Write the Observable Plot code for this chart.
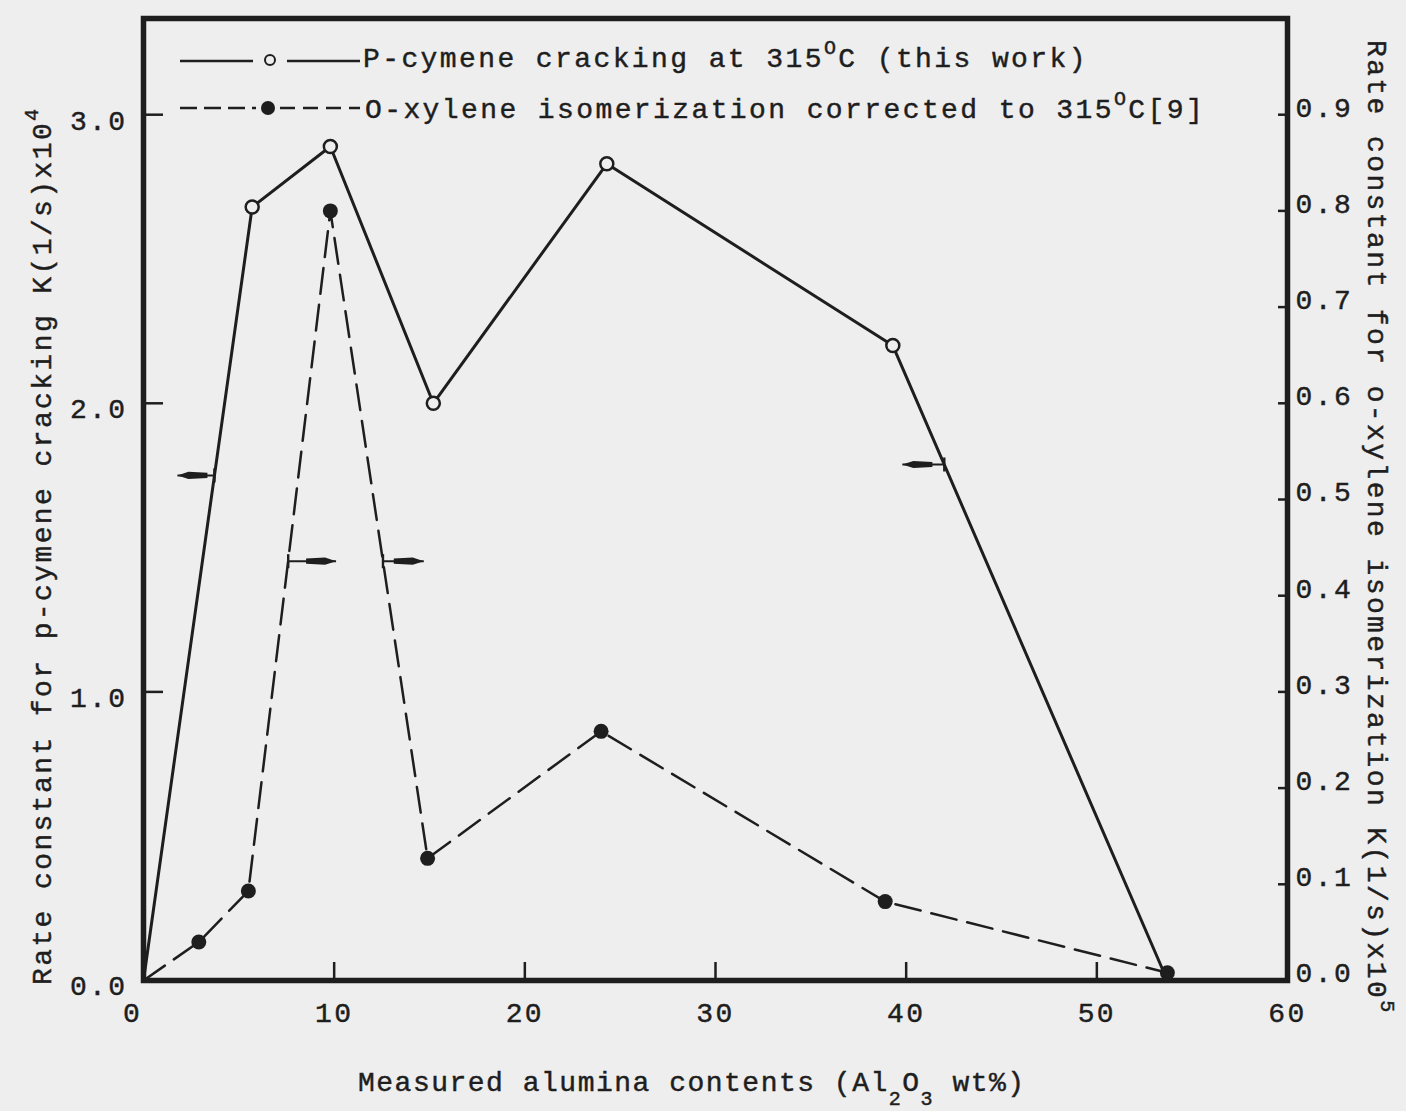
<!DOCTYPE html>
<html>
<head>
<meta charset="utf-8">
<script src="https://cdn.jsdelivr.net/npm/d3@7"></script>
<script src="https://cdn.jsdelivr.net/npm/@observablehq/plot@0.6"></script>
<style>
  html, body { margin: 0; padding: 0; background: #eeeeee; overflow: hidden; }
  /* slightly heavier, typewriter-like lettering */
  #chart svg text { stroke: #1e1e1e; stroke-width: 0.45px; }
</style>
</head>
<body>
<div id="chart"></div>
<script>
// p-cymene cracking at 315 °C (left axis, K(1/s) x10^4)
const aluminaPC = [0, 5.7, 9.8, 15.2, 24.3, 39.3, 53.7];
const kPCymene  = [0, 2.68, 2.89, 2.0, 2.83, 2.2, 0];

// o-xylene isomerization corrected to 315 °C (right axis, K(1/s) x10^5)
const aluminaOX = [0, 2.9, 5.5, 9.8, 14.9, 24.0, 38.9, 53.7];
const kOXylene  = [0, 0.040, 0.093, 0.80, 0.127, 0.259, 0.082, 0.008];

// axis ticks
const xTicks     = [0, 10, 20, 30, 40, 50, 60];
const leftTicks  = [0, 1, 2, 3];
const rightTicks = [0, 0.1, 0.2, 0.3, 0.4, 0.5, 0.6, 0.7, 0.8, 0.9];

// small arrows telling which axis each curve is read on
// (base on the curve, tip toward the axis, height in left-axis units)
const arrowBase = [3.72, 7.59, 12.56, 42.0];
const arrowTip  = [1.78, 10.1, 14.7, 39.8];
const arrowY    = [1.75, 1.453, 1.453, 1.788];

// text
const legendPC = [["P-cymene cracking at 315"], ["O", "sup"], ["C (this work)"]];
const legendOX = [["O-xylene isomerization corrected to 315"], ["O", "sup"], ["C[9]"]];
const xTitle   = [["Measured alumina contents (Al"], ["2", "sub"], ["O"], ["3", "sub"], [" wt%)"]];
const yTitleL  = [["Rate constant for p-cymene cracking K(1/s)x10"], ["4", "sup"]];
const yTitleR  = [["Rate constant for o-xylene isomerization K(1/s)x10"], ["5", "sup"]];

const INK = "#1e1e1e";
const PAPER = "#eeeeee";
const FONT = "'Liberation Mono', 'DejaVu Sans Mono', monospace";
const W = 1406, H = 1111;
const M = {top: 18, right: 119, bottom: 131, left: 143};
const frameW = W - M.left - M.right;
const frameH = H - M.top - M.bottom;
const K = 10 / 3; // one unit on the right axis in left-axis units

const pc = aluminaPC.map((x, i) => ({x, k: kPCymene[i]}));
const ox = aluminaOX.map((x, i) => ({x, k: kOXylene[i]}));
const arrows = arrowBase.map((b, i) => ({base: b, tip: arrowTip[i], y: arrowY[i], dir: Math.sign(arrowTip[i] - b)}));

// long narrow dart heads, tip at the origin
const headRight = {draw(c) { c.moveTo(0, 0); c.lineTo(-11, -3.6); c.lineTo(-30, -2.6); c.lineTo(-30, 2.6); c.lineTo(-11, 3.6); c.closePath(); }};
const headLeft  = {draw(c) { c.moveTo(0, 0); c.lineTo(11, -3.6); c.lineTo(30, -2.6); c.lineTo(30, 2.6); c.lineTo(11, 3.6); c.closePath(); }};
// short upright bar where each arrow leaves its curve
const baseBar   = {draw(c) { c.moveTo(-1.2, -7); c.lineTo(1.2, -7); c.lineTo(1.2, 7); c.lineTo(-1.2, 7); c.closePath(); }};

// text with superscripts / subscripts
function richText(parent, parts, attrs, spacing = 2.4) {
  const t = parent.append("text")
    .attr("fill", INK)
    .attr("text-anchor", "start")
    .attr("font-family", FONT)
    .attr("font-size", 28)
    .attr("letter-spacing", `${spacing}px`);
  for (const [k, v] of Object.entries(attrs)) t.attr(k, v);
  let shift = 0;
  for (const [str, kind] of parts) {
    const target = kind === "sup" ? -13 : kind === "sub" ? 14 : 0;
    const s = t.append("tspan").text(str).attr("dy", target - shift);
    if (kind) s.attr("font-size", 20);
    shift = target;
  }
  return t;
}

function legendMark() {
  const g = d3.create("svg:g");
  const x0 = M.left + 37;
  // row 1: solid line with open circle
  const y1 = 61;
  g.append("line").attr("x1", x0).attr("x2", x0 + 73).attr("y1", y1).attr("y2", y1)
    .attr("stroke", INK).attr("stroke-width", 2.5);
  g.append("circle").attr("cx", x0 + 90).attr("cy", y1 - 1).attr("r", 5)
    .attr("fill", "none").attr("stroke", INK).attr("stroke-width", 2);
  g.append("line").attr("x1", x0 + 107).attr("x2", x0 + 180).attr("y1", y1).attr("y2", y1)
    .attr("stroke", INK).attr("stroke-width", 2.5);
  richText(g, legendPC, {x: x0 + 183, y: 67});
  // row 2: dashed line with filled dot
  const y2 = 108;
  g.append("line").attr("x1", x0).attr("x2", x0 + 76).attr("y1", y2).attr("y2", y2)
    .attr("stroke", INK).attr("stroke-width", 2.5).attr("stroke-dasharray", "17,7");
  g.append("circle").attr("cx", x0 + 88).attr("cy", y2).attr("r", 7).attr("fill", INK);
  g.append("line").attr("x1", x0 + 100).attr("x2", x0 + 180).attr("y1", y2).attr("y2", y2)
    .attr("stroke", INK).attr("stroke-width", 2.5).attr("stroke-dasharray", "15,8");
  richText(g, legendOX, {x: x0 + 185, y: 118});
  return g.node();
}

function titlesMark() {
  const g = d3.create("svg:g");
  richText(g, xTitle, {x: 358, y: 1091}, 1.5);
  richText(g, yTitleL, {transform: "translate(51,985) rotate(-90)"});
  richText(g, yTitleR, {transform: "translate(1368,40) rotate(90)"});
  return g.node();
}

const chart = Plot.plot({
  width: W,
  height: H,
  marginTop: M.top,
  marginRight: M.right,
  marginBottom: M.bottom,
  marginLeft: M.left,
  style: {background: PAPER, fontFamily: FONT, fontSize: "28px", letterSpacing: "2.4px", color: INK},
  x: {type: "linear", domain: [0, 60]},
  y: {type: "linear", domain: [0, K]},
  marks: [
    // inward ticks
    Plot.ruleX(xTicks.slice(1, -1), {x: d => d, insetTop: frameH - 18, stroke: INK, strokeWidth: 2.5}),
    Plot.ruleY(leftTicks, {y: d => d, insetRight: frameW - 20, stroke: INK, strokeWidth: 2.5}),
    Plot.ruleY(rightTicks, {y: d => d * K, insetLeft: frameW - 9, stroke: INK, strokeWidth: 2.5}),
    // tick labels
    Plot.axisX(xTicks.filter(t => t > 0), {tickSize: 0, tickPadding: 22, label: null, tickFormat: d => String(d)}),
    Plot.axisX(xTicks.filter(t => t === 0), {tickSize: 0, tickPadding: 22, dx: -11, label: null, tickFormat: d => String(d)}),
    Plot.axisY(leftTicks, {anchor: "left", tickSize: 0, tickPadding: 16, dy: 6, label: null, tickFormat: d => d.toFixed(1)}),
    Plot.axisY(rightTicks.map(v => v * K), {anchor: "right", tickSize: 0, tickPadding: 8, dy: -7, label: null, tickFormat: d => (d / K).toFixed(1)}),
    // curves
    Plot.line(ox, {x: "x", y: d => d.k * K, stroke: INK, strokeWidth: 2.5, strokeDasharray: "26,11"}),
    Plot.line(pc, {x: "x", y: "k", stroke: INK, strokeWidth: 3}),
    // axis arrows
    Plot.link(arrows, {x1: "base", x2: "tip", y1: "y", y2: "y", stroke: INK, strokeWidth: 2}),
    Plot.dot(arrows, {x: "base", y: "y", symbol: baseBar, r: 4, fill: INK, stroke: "none"}),
    Plot.dot(arrows.filter(a => a.dir > 0), {x: "tip", y: "y", symbol: headRight, r: 4, fill: INK, stroke: "none"}),
    Plot.dot(arrows.filter(a => a.dir < 0), {x: "tip", y: "y", symbol: headLeft, r: 4, fill: INK, stroke: "none"}),
    // markers
    Plot.dot(pc.filter(d => d.k > 0), {x: "x", y: "k", r: 6.5, fill: PAPER, stroke: INK, strokeWidth: 2.5}),
    Plot.dot(ox.filter(d => d.x > 0), {x: "x", y: d => d.k * K, r: 7.5, fill: INK, stroke: "none"}),
    Plot.frame({stroke: INK, strokeWidth: 5.5}),
    legendMark,
    titlesMark
  ]
});

document.getElementById("chart").append(chart);
</script>
</body>
</html>
